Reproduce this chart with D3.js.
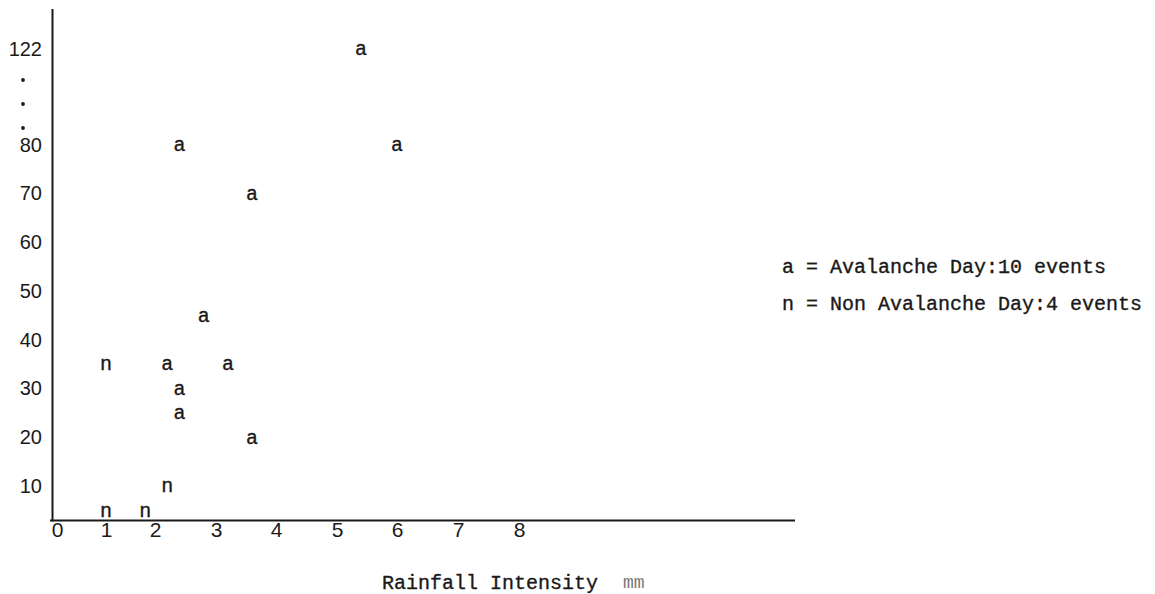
<html>
<head>
  <meta charset="utf-8">
  <title>Rainfall Intensity and Avalanche Days</title>
  <style>
    body { margin: 0; background: #fff; }
    .tick text { font-family: "Liberation Sans", sans-serif; fill: #1a1a1a; }
    .mark { font-family: "Liberation Mono", monospace; fill: #1a1a1a; stroke: #1a1a1a; stroke-width: 0.35px; }
  </style>
  <script src="https://d3js.org/d3.v7.min.js"></script>
</head>
<body>
  <div id="container"></div>
  <script>
    // data
    const avalancheX = [2.4, 3.6, 5.4, 6.0, 2.8, 2.2, 3.2, 2.4, 2.4, 3.6];
    const avalancheY = [80, 70, 122, 80, 45, 35, 35, 30, 25, 20];
    const nonAvalancheX = [1.0, 2.2, 1.0, 1.8];
    const nonAvalancheY = [35, 10, 5, 5];
    const xTicks = [0, 1, 2, 3, 4, 5, 6, 7, 8];
    const yTicks = [10, 20, 30, 40, 50, 60, 70, 80, 122];
    const legendLabels = ["a = Avalanche Day:10 events", "n = Non Avalanche Day:4 events"];

    const width = 1155, height = 594;

    const svg = d3.select("#container")
      .append("svg")
      .attr("width", width)
      .attr("height", height)
      .style("display", "block");

    // hand typed axis: tick spacing is uneven, so piecewise scales
    const x = d3.scaleLinear()
      .domain(xTicks)
      .range([57, 106, 155, 216, 276, 337, 397, 458, 519]);
    // broken y axis between 80 and 122 (scale gives text baselines)
    const y = d3.scaleLinear()
      .domain([0, 80, 122])
      .range([541, 151, 55]);

    const axisY = 520.5, axisX = 52.5;

    // axis lines
    svg.append("line")
      .attr("x1", axisX).attr("x2", axisX)
      .attr("y1", 9).attr("y2", axisY + 1)
      .style("stroke", "#1a1a1a").style("stroke-width", 2);
    svg.append("line")
      .attr("x1", 50).attr("x2", 795)
      .attr("y1", axisY).attr("y2", axisY)
      .style("stroke", "#1a1a1a").style("stroke-width", 2);

    // x tick labels
    const gx = svg.append("g")
      .attr("transform", "translate(0,537)")
      .call(d3.axisBottom(x).tickValues(xTicks).tickSize(0).tickPadding(0));
    gx.select(".domain").remove();
    gx.attr("font-size", 21);
    gx.selectAll(".tick text")
      .attr("y", 0).attr("dy", 0);

    // y tick labels
    const gy = svg.append("g")
      .attr("transform", "translate(42,0)")
      .call(d3.axisLeft(y).tickValues(yTicks).tickSize(0).tickPadding(0));
    gy.select(".domain").remove();
    gy.attr("font-size", 20);
    gy.selectAll(".tick text")
      .attr("x", 0).attr("dy", 0);

    // dots marking the break between 80 and 122
    const breakTop = y(122) - 6, breakBottom = y(80) - 6;
    svg.append("g").selectAll("circle")
      .data([1, 2, 3])
      .join("circle")
      .attr("cx", 23)
      .attr("cy", d => breakTop + (breakBottom - breakTop) * d / 4 + 7)
      .attr("r", 1.9)
      .style("fill", "#1a1a1a");

    // points typed as letters
    const avalanche = avalancheX.map((v, i) => ({ x: v, y: avalancheY[i] }));
    const nonAvalanche = nonAvalancheX.map((v, i) => ({ x: v, y: nonAvalancheY[i] }));

    svg.append("g").selectAll("text")
      .data(avalanche)
      .join("text")
      .attr("class", "mark")
      .attr("x", d => x(d.x))
      .attr("y", d => y(d.y))
      .attr("text-anchor", "middle")
      .attr("font-size", 20)
      .text("a");

    svg.append("g").selectAll("text")
      .data(nonAvalanche)
      .join("text")
      .attr("class", "mark")
      .attr("x", d => x(d.x))
      .attr("y", d => y(d.y))
      .attr("text-anchor", "middle")
      .attr("font-size", 20)
      .text("n");

    // legend
    svg.append("g").selectAll("text")
      .data(legendLabels)
      .join("text")
      .attr("class", "mark")
      .attr("x", 782)
      .attr("y", (d, i) => 273 + i * 37)
      .attr("font-size", 20)
      .attr("xml:space", "preserve")
      .text(d => d);

    // x axis title
    svg.append("text")
      .attr("class", "mark")
      .attr("x", 382)
      .attr("y", 589)
      .attr("font-size", 20)
      .text("Rainfall Intensity");
    svg.append("text")
      .attr("class", "mark")
      .attr("x", 623)
      .attr("y", 588)
      .attr("font-size", 18)
      .style("fill", "#777")
      .style("stroke", "none")
      .text("mm");
  </script>
</body>
</html>
